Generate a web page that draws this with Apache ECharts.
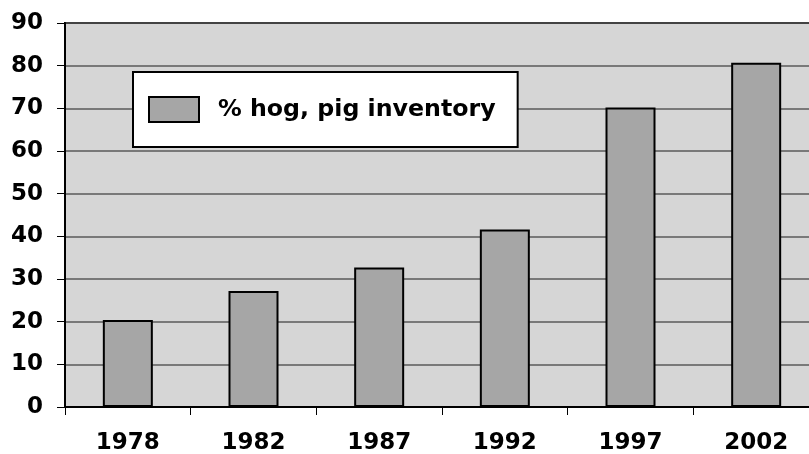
<!DOCTYPE html>
<html>
<head>
<meta charset="utf-8">
<script src="https://cdn.jsdelivr.net/npm/echarts@6/dist/echarts.min.js"></script>
<style>
html,body{margin:0;padding:0;background:#fff;}
#chart{width:809px;height:454px;}
</style>
</head>
<body>
<div id="chart"></div>
<script>
var categories = ['1978', '1982', '1987', '1992', '1997', '2002'];
var seriesName = '% hog, pig inventory';
var values = [20.4, 27.2, 32.7, 41.6, 70.2, 80.7];
var yTicks = [0, 10, 20, 30, 40, 50, 60, 70, 80, 90];

var FONT = '"DejaVu Sans", Verdana, sans-serif';
var chart = echarts.init(document.getElementById('chart'), null, {renderer: 'canvas'});
chart.setOption({
  animation: false,
  backgroundColor: '#ffffff',
  grid: {
    left: 65, top: 23, right: -10, bottom: 47,
    outerBoundsMode: 'none',
    containLabel: false,
    show: true, backgroundColor: '#d6d6d6', borderColor: '#000', borderWidth: 2
  },
  legend: {
    left: 133, top: 72,
    backgroundColor: '#ffffff', borderColor: '#000', borderWidth: 2,
    padding: [24, 22, 24, 15],
    icon: 'rect',
    itemWidth: 50, itemHeight: 25,
    textStyle: {fontFamily: FONT, fontWeight: 'bold', fontSize: 23.7, color: '#000', padding: [0, 0, 0, 14]},
    data: [seriesName]
  },
  xAxis: {
    type: 'category',
    data: categories,
    axisLine: {lineStyle: {color: '#000', width: 2}},
    axisTick: {show: true, length: 8, lineStyle: {color: '#000', width: 1}},
    axisLabel: {fontFamily: FONT, fontWeight: 'bold', fontSize: 23, color: '#000', margin: 25}
  },
  yAxis: {
    type: 'value',
    min: yTicks[0], max: yTicks[yTicks.length - 1], interval: 10,
    axisLine: {show: true, lineStyle: {color: '#000', width: 2}},
    axisTick: {show: true, length: 8, lineStyle: {color: '#000', width: 1}},
    axisLabel: {fontFamily: FONT, fontWeight: 'bold', fontSize: 23, color: '#000', margin: 22},
    splitLine: {show: true, lineStyle: {color: '#5a5a5a', width: 1.5}}
  },
  series: [{
    name: seriesName,
    type: 'bar',
    data: values,
    barWidth: 50,
    itemStyle: {color: '#a6a6a6', borderColor: '#000', borderWidth: 2}
  }]
});
</script>
</body>
</html>
